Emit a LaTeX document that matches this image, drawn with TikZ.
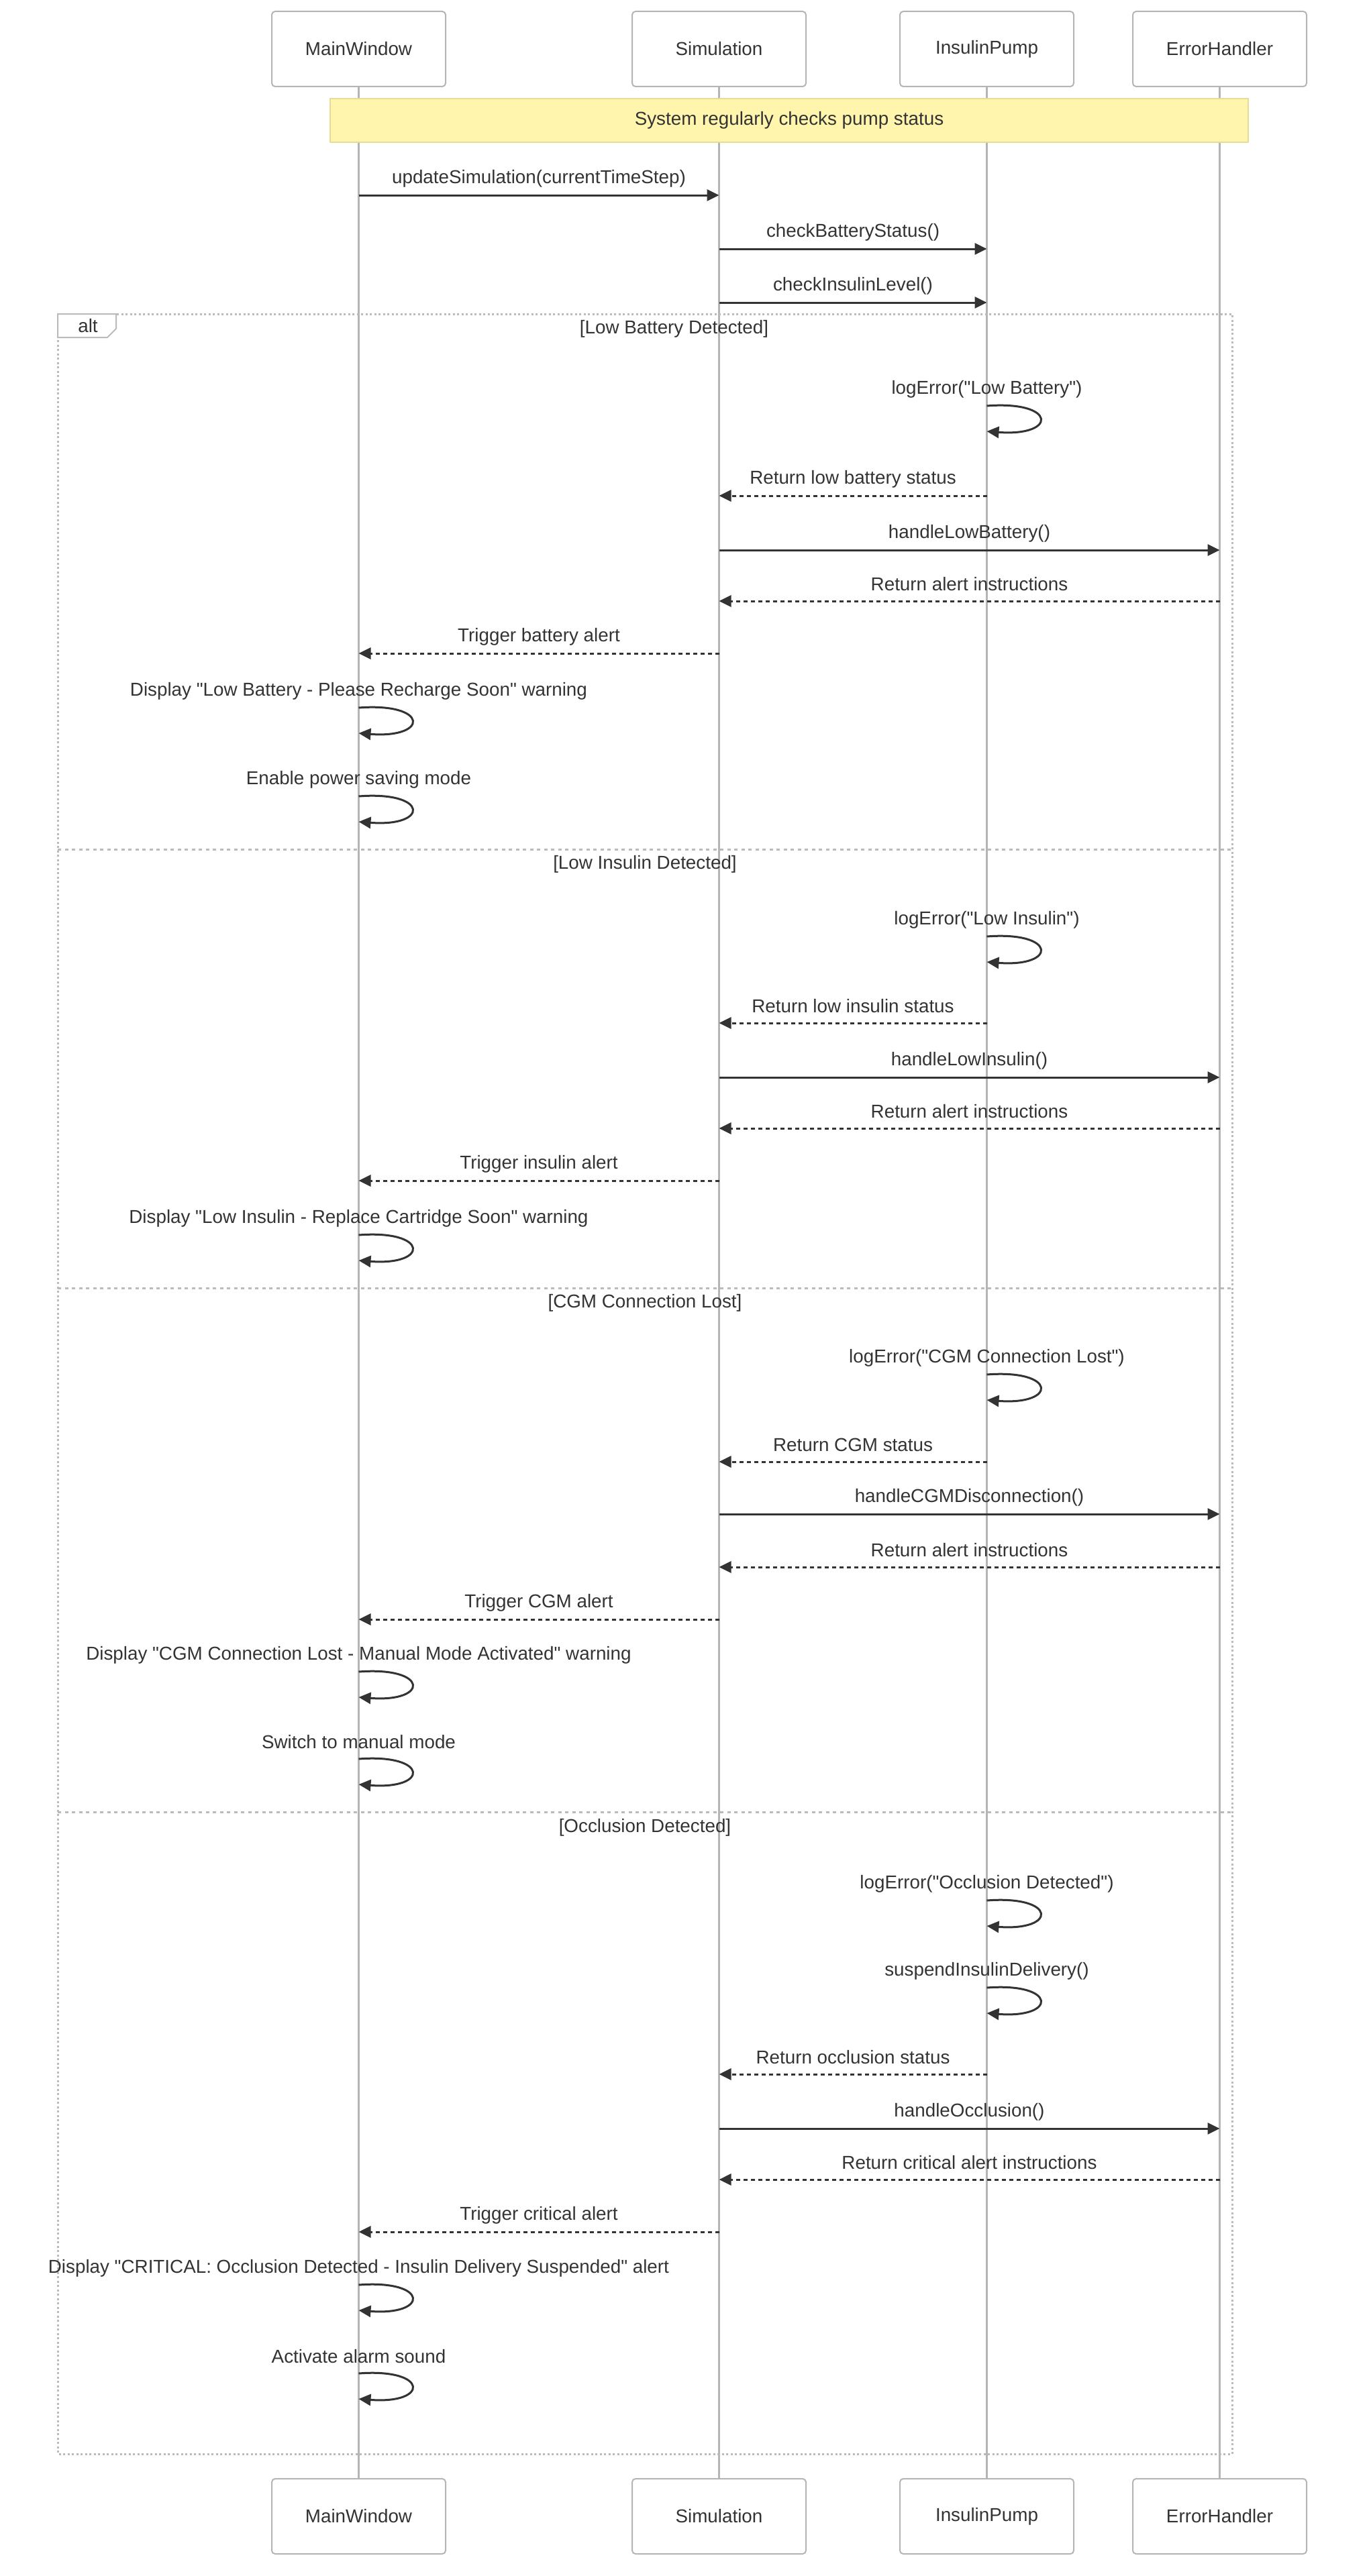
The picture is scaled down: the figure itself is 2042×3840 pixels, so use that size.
\documentclass[tikz,border=0pt]{standalone}
\usepackage{fontspec}
\setmainfont{Liberation Sans}[Ligatures=TeXOff]
\usepackage{tikz}
\usetikzlibrary{arrows.meta, positioning}
\definecolor{inkgray}{HTML}{333333}
\definecolor{linegray}{HTML}{B5B5B5}
\definecolor{framegray}{HTML}{BBBBBB}
\definecolor{notefill}{HTML}{FFF5AD}
\definecolor{noteedge}{HTML}{E6DC96}
\tikzstyle{actor} = [rectangle, rounded corners=5pt, draw=linegray, line width=2pt, fill=white, minimum width=259pt, minimum height=112pt]
\tikzstyle{lifeline} = [draw=linegray, line width=3pt]
\tikzstyle{call} = [draw=inkgray, line width=3pt, -{Triangle[length=18pt, width=17pt]}]
\tikzstyle{reply} = [call, dash pattern=on 6pt off 5pt]
\tikzstyle{msglabel} = [yshift=25pt]
\tikzstyle{frame} = [draw=framegray, line width=3pt, dash pattern=on 3pt off 3.5pt]
\tikzstyle{divider} = [draw=framegray, line width=3pt, dash pattern=on 5pt off 5.5pt]
\tikzstyle{note} = [rectangle, draw=noteedge, line width=2pt, fill=notefill, minimum width=1368pt, minimum height=65pt]
% name, from, to, y, text
\newcommand{\callmsg}[5]{\draw[call] (#2 |- 0,#4) -- node[msglabel] (#1) {#5} (#3 |- 0,#4);}
\newcommand{\replymsg}[5]{\draw[reply] (#2 |- 0,#4) -- node[msglabel] (#1) {#5} (#3 |- 0,#4);}
% name, on, y, text
\newcommand{\selfmsg}[4]{%
  \node (#1) [msglabel] at (#2 |- 0,#3) {#4};
  \draw[call] (#2 |- 0,#3) .. controls +(105,-8) and +(105,8) .. (#2 |- 0,#3+38);}

\begin{document}
\begin{tikzpicture}[x=1pt, y=-1pt, font=\fontsize{27.8pt}{33pt}\selectfont, text=inkgray]
\useasboundingbox (0,0) rectangle (2042,3840);

% participants
\node (mainTop) [actor] at (534.5,73) {MainWindow};
\node (simTop) [actor] at (1071.5,73) {Simulation};
\node (pumpTop) [actor] at (1470.5,73) {InsulinPump};
\node (errTop) [actor] at (1817.5,73) {ErrorHandler};
\node (mainBot) [actor, below=3564pt of mainTop] {MainWindow};
\node (simBot) [actor, below=3564pt of simTop] {Simulation};
\node (pumpBot) [actor, below=3564pt of pumpTop] {InsulinPump};
\node (errBot) [actor, below=3564pt of errTop] {ErrorHandler};

\draw[lifeline] (mainTop) -- (mainBot);
\draw[lifeline] (simTop) -- (simBot);
\draw[lifeline] (pumpTop) -- (pumpBot);
\draw[lifeline] (errTop) -- (errBot);

% alt frame
\draw[frame] (86,468) rectangle (1836,3658);
\draw[divider] (86,1266) -- (1836,1266);
\draw[divider] (86,1920) -- (1836,1920);
\draw[divider] (86,2701) -- (1836,2701);
\draw[draw=framegray, line width=2pt, fill=white] (86,468) -- (173,468) -- (173,490) -- (160,503) -- (86,503) -- cycle;
\node (altTag) at (131,486) {alt};
\node (guardA) at (1004.5,490) {[Low Battery Detected]};
\node (guardB) at (961,1288) {[Low Insulin Detected]};
\node (guardC) at (961,1942) {[CGM Connection Lost]};
\node (guardD) at (961,2724) {[Occlusion Detected]};

\node (status) [note] at (1176,179.5) {System regularly checks pump status};

\callmsg{m1}{mainTop}{simTop}{291}{updateSimulation(currentTimeStep)}
\callmsg{m2}{simTop}{pumpTop}{371}{checkBatteryStatus()}
\callmsg{m3}{simTop}{pumpTop}{451}{checkInsulinLevel()}

% low battery
\selfmsg{b1}{pumpTop}{605}{logError("Low Battery")}
\replymsg{b2}{pumpTop}{simTop}{739}{Return low battery status}
\callmsg{b3}{simTop}{errTop}{820}{handleLowBattery()}
\replymsg{b4}{errTop}{simTop}{896}{Return alert instructions}
\replymsg{b5}{simTop}{mainTop}{974}{Trigger battery alert}
\selfmsg{b6}{mainTop}{1055}{Display "Low Battery - Please Recharge Soon" warning}
\selfmsg{b7}{mainTop}{1187}{Enable power saving mode}

% low insulin
\selfmsg{i1}{pumpTop}{1396}{logError("Low Insulin")}
\replymsg{i2}{pumpTop}{simTop}{1525}{Return low insulin status}
\callmsg{i3}{simTop}{errTop}{1606}{handleLowInsulin()}
\replymsg{i4}{errTop}{simTop}{1682}{Return alert instructions}
\replymsg{i5}{simTop}{mainTop}{1760}{Trigger insulin alert}
\selfmsg{i6}{mainTop}{1841}{Display "Low Insulin - Replace Cartridge Soon" warning}

% cgm lost
\selfmsg{c1}{pumpTop}{2049}{logError("CGM Connection Lost")}
\replymsg{c2}{pumpTop}{simTop}{2179}{Return CGM status}
\callmsg{c3}{simTop}{errTop}{2257}{handleCGMDisconnection()}
\replymsg{c4}{errTop}{simTop}{2336}{Return alert instructions}
\replymsg{c5}{simTop}{mainTop}{2414}{Trigger CGM alert}
\selfmsg{c6}{mainTop}{2492}{Display "CGM Connection Lost - Manual Mode Activated" warning}
\selfmsg{c7}{mainTop}{2622}{Switch to manual mode}

% occlusion
\selfmsg{o1}{pumpTop}{2833}{logError("Occlusion Detected")}
\selfmsg{o2}{pumpTop}{2963}{suspendInsulinDelivery()}
\replymsg{o3}{pumpTop}{simTop}{3092}{Return occlusion status}
\callmsg{o4}{simTop}{errTop}{3173}{handleOcclusion()}
\replymsg{o5}{errTop}{simTop}{3249}{Return critical alert instructions}
\replymsg{o6}{simTop}{mainTop}{3327}{Trigger critical alert}
\selfmsg{o7}{mainTop}{3406}{Display "CRITICAL: Occlusion Detected - Insulin Delivery Suspended" alert}
\selfmsg{o8}{mainTop}{3538}{Activate alarm sound}
\end{tikzpicture}
\end{document}
